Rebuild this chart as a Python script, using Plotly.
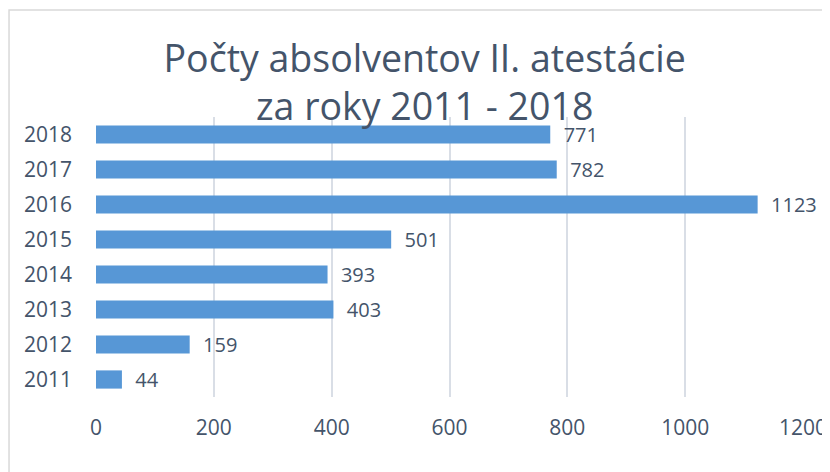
import plotly.graph_objects as go

# Počty absolventov II. atestácie za roky 2011 - 2018
years = ["2011", "2012", "2013", "2014", "2015", "2016", "2017", "2018"]
counts = [44, 159, 403, 393, 501, 1123, 782, 771]
x_ticks = [0, 200, 400, 600, 800, 1000, 1200]

text_color = "#44546A"
grid_color = "#D9DEE6"

fig = go.Figure()

fig.add_trace(go.Bar(
    x=counts,
    y=years,
    orientation="h",
    width=0.52,
    marker=dict(color="#5797D6", line=dict(width=0)),
    text=["\u00a0\u00a0" + str(c) for c in counts],
    textposition="outside",
    constraintext="none",
    textfont=dict(size=20, color=text_color, family="Open Sans"),
    cliponaxis=False,
))

# light frame around the chart (only top/left visible in the crop)
fig.add_shape(
    type="rect", xref="paper", yref="paper",
    x0=-0.123, x1=2.0, y0=-1.0, y1=1.382,
    line=dict(color="#D9D9D9", width=1.5),
    layer="below",
)

fig.update_layout(
    width=830,
    height=472,
    paper_bgcolor="white",
    plot_bgcolor="white",
    margin=dict(l=88, r=35, t=109, b=83, autoexpand=False),
    showlegend=False,
    font=dict(family="Open Sans", color=text_color, size=20),
    title=dict(
        text="Počty absolventov II. atestácie<br>za roky 2011 - 2018",
        x=0.502, xanchor="center",
        y=0.865, yanchor="top",
        font=dict(size=37.5, color=text_color, family="Open Sans"),
    ),
)

fig.update_xaxes(
    range=[0, 1200],
    tickvals=x_ticks,
    showgrid=True,
    gridcolor=grid_color,
    gridwidth=1.5,
    zeroline=False,
    showline=False,
    ticks="",
    automargin=False,
    ticklabelstandoff=16,
    tickfont=dict(size=21, color=text_color),
)
fig.update_yaxes(
    type="category",
    categoryorder="array",
    categoryarray=years,
    showgrid=False,
    zeroline=False,
    showline=False,
    ticks="",
    automargin=False,
    ticklabelstandoff=23,
    tickfont=dict(size=21, color=text_color),
)

fig.write_html("out.html")
